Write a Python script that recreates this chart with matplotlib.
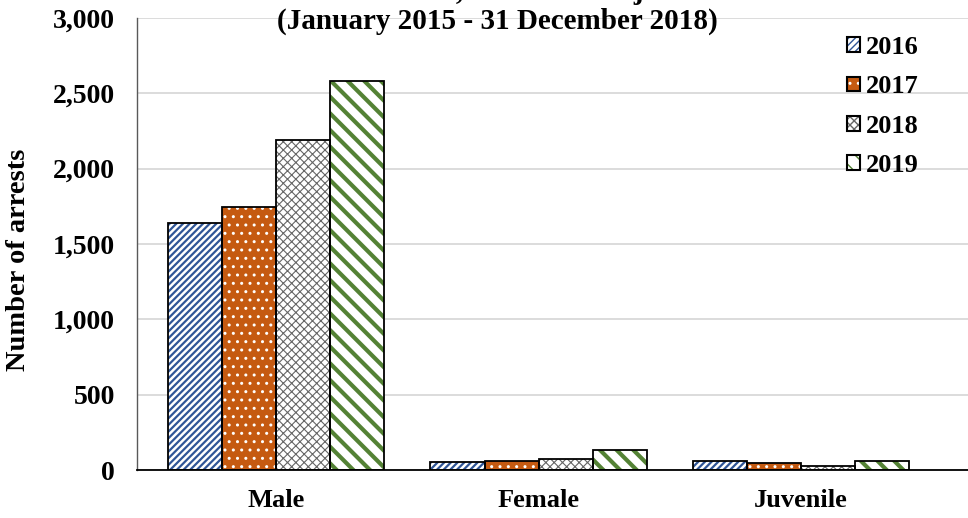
import numpy as np
import matplotlib
matplotlib.use("Agg")
import matplotlib.pyplot as plt
from matplotlib.patches import Patch
from matplotlib.legend_handler import HandlerTuple
from matplotlib.ticker import FuncFormatter

categories = ["Male", "Female", "Juvenile"]
years = ["2016", "2017", "2018", "2019"]
arrests = {
    "2016": [1640, 51, 58],
    "2017": [1745, 62, 48],
    "2018": [2190, 75, 29],
    "2019": [2585, 131, 60],
}

# face colour, hatch, hatch colour, hatch width
styles = {
    "2016": ("white", "/////", "#2f5597", 1.6),
    "2017": ("#c55a11", "..", "white", 1.0),
    "2018": ("white", "xxxx", "#666666", 0.8),
    "2019": ("white", "\\\\", "#548235", 3.0),
}

plt.rcParams["font.family"] = ["Liberation Serif", "DejaVu Serif"]
plt.rcParams["font.weight"] = "bold"
plt.rcParams["axes.labelweight"] = "bold"
plt.rcParams["font.size"] = 19

fig = plt.figure(figsize=(9.68, 5.18), dpi=100)
ax = fig.add_axes([137 / 968, 1 - 470 / 518, 1 - 137 / 968, (470 - 18) / 518])

x = np.arange(len(categories))
width = 0.206
handles = []
for i, yr in enumerate(years):
    fc, hatch, hc, hw = styles[yr]
    pos = x + (i - 1.5) * width
    bars = ax.bar(pos, arrests[yr], width, color=fc, edgecolor=hc, hatch=hatch,
                  linewidth=0, zorder=2)
    for b in bars:
        b.set_hatch_linewidth(hw)
    ax.bar(pos, arrests[yr], width, fill=False, edgecolor="black",
           linewidth=1.3, zorder=3)
    p1 = Patch(facecolor=fc, edgecolor=hc, hatch=hatch, linewidth=0)
    p1.set_hatch_linewidth(hw)
    p2 = Patch(fill=False, edgecolor="black", linewidth=1.5)
    handles.append((p1, p2))

ax.set_xlim(-0.53, 2.636)
ax.set_ylim(0, 3000)
ax.set_yticks(np.arange(0, 3001, 500))
ax.yaxis.set_major_formatter(FuncFormatter(lambda v, p: f"{int(v):,}"))
ax.set_xticks(x)
ax.set_xticklabels(categories)
ax.tick_params(axis="both", length=0)
ax.tick_params(axis="y", pad=16, labelsize=20)
ax.tick_params(axis="x", pad=14)
ax.grid(axis="y", color="#d9d9d9", linewidth=1.3, zorder=0)
ax.set_axisbelow(True)
for s in ["top", "right"]:
    ax.spines[s].set_visible(False)
ax.spines["left"].set_color("#595959")
ax.spines["left"].set_linewidth(1.0)
ax.spines["bottom"].set_linewidth(1.3)

ax.set_ylabel("Number of arrests", fontsize=20.5, fontweight="bold")
ax.yaxis.set_label_coords(-0.127, 0.465)

fig.text(497 / 968, 1 + 1 / 518, "Arrests of Males, Females and juveniles",
         ha="center", va="baseline", fontsize=21, fontweight="bold")
fig.text(497 / 968, 1 - 29 / 518, "(January 2015 - 31 December 2018)",
         ha="center", va="baseline", fontsize=21, fontweight="bold")

ax.legend(handles, years, handler_map={tuple: HandlerTuple(ndivide=1, pad=0)},
          loc="upper left", bbox_to_anchor=(847 / 968, 1 - 36 / 518),
          bbox_transform=fig.transFigure, frameon=False, borderpad=0,
          borderaxespad=0, handlelength=0.48, handleheight=0.48,
          handletextpad=0.25, labelspacing=0.62)

fig.savefig("out.png", dpi=100)
